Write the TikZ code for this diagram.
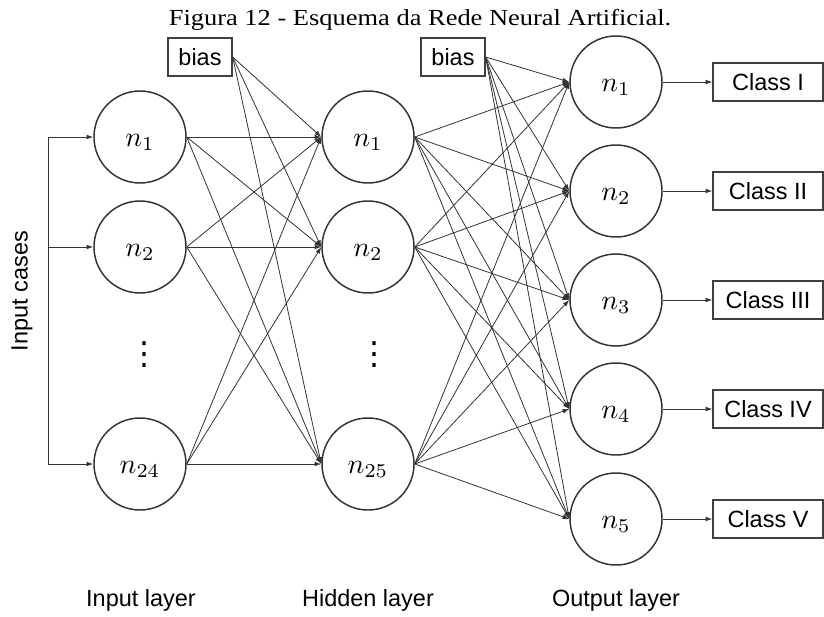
\documentclass[tikz,border=0pt]{standalone}
\usepackage{fontspec}
\setmainfont{Liberation Sans}
\newfontfamily\titlefont{Liberation Serif}
\newfontfamily\symfont{DejaVu Sans}
\usetikzlibrary{arrows.meta}
\newcommand{\nlab}[1]{\scalebox{2.1}{$#1$}}
\begin{document}
\begin{tikzpicture}[x=0.75pt,y=-0.75pt,
  neuron/.style={circle,draw=black!80,line width=1.1pt,minimum size=69pt,inner sep=0pt,text height=17pt,text depth=3pt},
  box/.style={rectangle,draw=black!75,line width=1pt,inner sep=0pt,font=\fontsize{17.6}{20}\selectfont},
  biasbox/.style={box,minimum width=48pt,minimum height=28.5pt},
  classbox/.style={box,minimum width=82.5pt,minimum height=28.5pt},
  conn/.style={draw=black!80,line width=0.6pt,-{Latex[length=5pt,width=3.5pt]}},
  plain/.style={draw=black!80,line width=0.6pt},
  dotstyle/.style={inner sep=0pt,font=\symfont\fontsize{24}{24}\selectfont},
  lbl/.style={font=\fontsize{17.6}{20}\selectfont}]
\useasboundingbox (0,0) rectangle (824,617);

% title
\node[anchor=base,inner sep=0pt] (title) at (420,26)
  {\titlefont\fontsize{17.25}{20}\selectfont\scalebox{1.15}[1]{Figura 12 - Esquema da Rede Neural Artificial.}};

% input layer
\node[neuron] (i1) at (140,137) {\nlab{n_1}};
\node[neuron] (i2) at (140,247) {\nlab{n_2}};
\node[neuron] (i3) at (140,464) {\nlab{n_{24}}};
% hidden layer
\node[neuron] (h1) at (368,137) {\nlab{n_1}};
\node[neuron] (h2) at (368,247) {\nlab{n_2}};
\node[neuron] (h3) at (368,464) {\nlab{n_{25}}};
% output layer
\node[neuron] (o1) at (616,82) {\nlab{n_1}};
\node[neuron] (o2) at (616,191) {\nlab{n_2}};
\node[neuron] (o3) at (616,300) {\nlab{n_3}};
\node[neuron] (o4) at (616,409) {\nlab{n_4}};
\node[neuron] (o5) at (616,519) {\nlab{n_5}};
% bias
\node[biasbox] (b1) at (200,57) {bias};
\node[biasbox] (b2) at (453,57) {bias};
% classes
\node[classbox] (c1) at (768,82) {Class I};
\node[classbox] (c2) at (768,191) {Class II};
\node[classbox] (c3) at (768,300) {Class III};
\node[classbox] (c4) at (768,409) {Class IV};
\node[classbox] (c5) at (768,519) {Class V};

% dots
\node[dotstyle] (d1) at (144,355) {⋮};
\node[dotstyle] (d2) at (374,355) {⋮};

% input cases
\coordinate (s1) at (48,137);
\coordinate (s2) at (48,247);
\coordinate (s3) at (48,464);
\draw[plain] (s1) -- (s3);
\draw[conn] (s1) -- (i1);
\draw[conn] (s2) -- (i2);
\draw[conn] (s3) -- (i3);
\node[lbl,rotate=90] (ic) at (22,291) {Input cases};

% connections
\foreach \a in {i1,i2,i3,b1}
  \foreach \b in {h1,h2,h3}
    \draw[conn] (\a.east) -- (\b.west);
\foreach \a in {h1,h2,h3,b2}
  \foreach \b in {o1,o2,o3,o4,o5}
    \draw[conn] (\a.east) -- (\b.west);
\foreach \k in {1,...,5}
  \draw[conn] (o\k) -- (c\k);

% layer labels
\node[lbl] (li) at (141,600) {Input layer};
\node[lbl] (lh) at (368,600) {Hidden layer};
\node[lbl] (lo) at (616,600) {Output layer};
\end{tikzpicture}
\end{document}
